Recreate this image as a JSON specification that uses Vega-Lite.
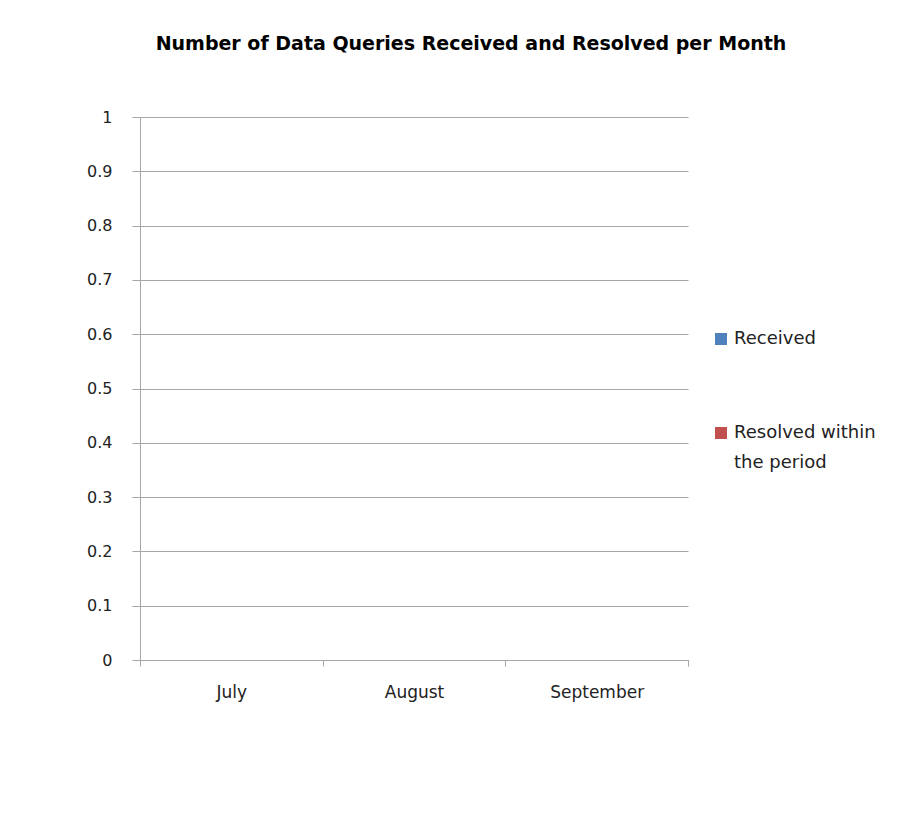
{
  "$schema": "https://vega.github.io/schema/vega-lite/v6.json",
  "autosize": {"type": "none"},
  "width": 548,
  "height": 543,
  "padding": {"left": 140, "top": 117, "right": 235, "bottom": 156},
  "background": "white",
  "title": {
    "text": "Number of Data Queries Received and Resolved per Month",
    "font": "DejaVu Sans",
    "fontSize": 19,
    "fontWeight": "bold",
    "color": "#000000",
    "anchor": "middle",
    "dx": 57,
    "offset": 55
  },
  "data": {
    "values": [
      {"month": "July", "series": "Received", "count": 0},
      {"month": "July", "series": "Resolved within the period", "count": 0},
      {"month": "August", "series": "Received", "count": 0},
      {"month": "August", "series": "Resolved within the period", "count": 0},
      {"month": "September", "series": "Received", "count": 0},
      {"month": "September", "series": "Resolved within the period", "count": 0}
    ]
  },
  "mark": {"type": "bar"},
  "encoding": {
    "x": {
      "field": "month",
      "type": "nominal",
      "sort": ["July", "August", "September"],
      "scale": {"paddingInner": 0, "paddingOuter": 0},
      "axis": {
        "title": null,
        "labelAngle": 0,
        "tickBand": "extent",
        "tickSize": 6,
        "tickColor": "#A6A6A6",
        "domainColor": "#A6A6A6",
        "labelFont": "DejaVu Sans",
        "labelFontSize": 17,
        "labelColor": "#222222",
        "labelPadding": 18,
        "grid": false
      }
    },
    "xOffset": {"field": "series", "type": "nominal"},
    "y": {
      "field": "count",
      "type": "quantitative",
      "scale": {"domain": [0, 1], "nice": false},
      "axis": {
        "title": null,
        "values": [0, 0.1, 0.2, 0.3, 0.4, 0.5, 0.6, 0.7, 0.8, 0.9, 1],
        "format": "~g",
        "tickSize": 8,
        "tickColor": "#A6A6A6",
        "domainColor": "#A6A6A6",
        "grid": true,
        "gridColor": "#A6A6A6",
        "labelFont": "DejaVu Sans",
        "labelFontSize": 16,
        "labelColor": "#222222",
        "labelPadding": 20
      }
    },
    "color": {
      "field": "series",
      "type": "nominal",
      "scale": {"domain": ["Received", "Resolved within the period"], "range": ["#4F81BD", "#C0504D"]},
      "legend": {
        "title": null,
        "orient": "none",
        "legendX": 572,
        "legendY": 213,
        "symbolType": "square",
        "symbolSize": 144,
        "symbolStrokeWidth": 0,
        "labelFont": "DejaVu Sans",
        "labelFontSize": 18,
        "labelColor": "#222222",
        "labelLimit": 300,
        "rowPadding": 76,
        "labelExpr": "datum.label == 'Resolved within the period' ? ['Resolved within', 'the period'] : datum.label"
      }
    }
  },
  "config": {
    "view": {"stroke": null},
    "style": {"guide-label": {"lineHeight": 30}}
  }
}
